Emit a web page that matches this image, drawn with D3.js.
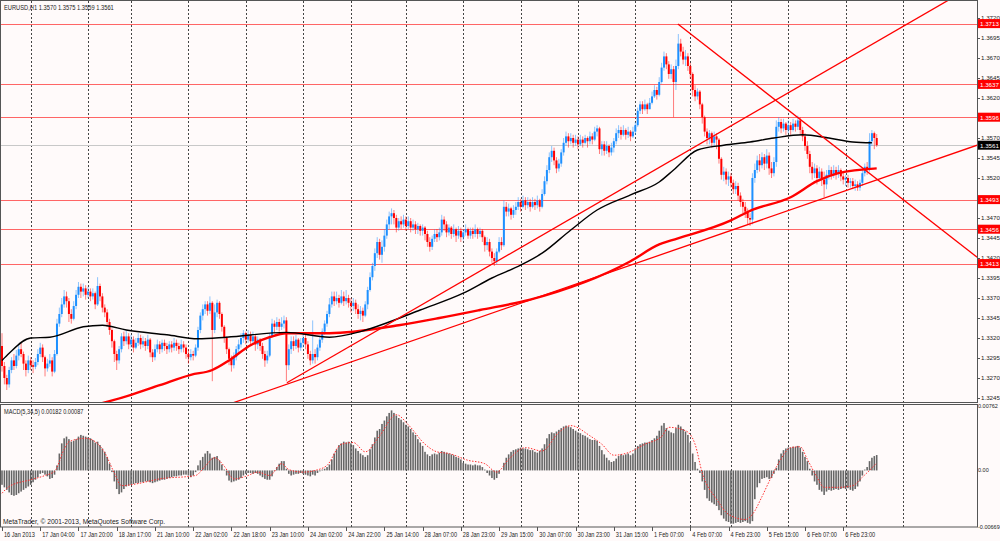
<!DOCTYPE html>
<html>
<head>
<meta charset="utf-8">
<script src="https://cdn.jsdelivr.net/npm/d3@7"></script>
<style>
  body { margin: 0; background: #fffafa; }
  text { font-family: "Liberation Sans", "DejaVu Sans", sans-serif; font-size: 7px; }
  .axis-r text { font-size: 6.2px; }
  .axis-m text { font-size: 5.5px; }
</style>
</head>
<body>
<div id="chart"></div>
<script>
// EURUSD H1 bars, prices in pips above 1.3000 (open of each bar = previous close)
const firstOpen = 310;
const closes = [
  285,270,262,280,292,285,298,306,300,288, 280,292,286,284,290,300,308,296,282,288,
  292,278,300,338,350,362,372,366,350,344, 360,374,384,378,382,374,378,372,376,362,
  385,372,358,352,340,330,316,300,292,306, 322,316,322,312,318,308,314,320,312,316,
  310,318,302,296,306,312,306,314,310,306, 312,308,314,310,306,312,308,300,296,300,
  298,308,330,348,356,362,354,364,330,352, 364,350,334,320,306,294,286,296,306,312,
  320,326,318,324,316,322,312,318,310,300, 292,298,322,338,334,340,334,338,342,286,
  306,316,310,318,308,314,320,312,300,292, 300,296,308,318,328,338,350,362,372,366,
  370,364,372,366,370,364,360,364,356,350, 354,348,362,380,396,410,426,440,424,434,
  448,462,472,476,470,458,466,462,468,460, 466,458,462,456,460,454,458,450,440,434,
  444,450,446,452,468,462,452,458,450,456, 448,454,446,452,456,448,454,450,456,450,
  454,446,436,440,428,420,416,428,440,436, 484,478,482,474,480,484,490,484,492,486,
  490,484,490,486,492,484,500,516,530,546, 554,542,532,538,552,564,572,566,570,564,
  568,562,568,564,570,566,572,568,578,582, 556,562,554,560,552,558,566,576,580,574,
  580,574,578,572,578,586,604,612,606,612, 606,614,622,630,624,640,658,672,662,650,
  656,640,660,688,678,668,672,660,650,630, 622,628,612,596,578,570,576,564,572,568,
  544,524,528,518,522,514,506,510,498,490, 484,478,470,468,520,530,542,536,546,538,
  548,532,526,540,584,590,582,588,580,586, 580,588,584,592,580,572,560,550,534,526,
  532,520,528,518,512,524,530,524,530,526, 530,522,518,520,514,516,510,512,508,514,
  526,534,530,566,576,570,561
];
const highs = [
  326,290,274,284,296,300,305,312,314,303, 292,298,296,292,295,306,314,312,298,294,
  300,296,305,344,358,370,380,378,370,356, 366,380,390,388,388,386,384,382,382,378,
  396,388,376,362,356,344,332,318,304,310, 326,328,330,326,324,322,320,326,324,322,
  320,324,320,306,312,318,316,318,318,314, 316,316,320,318,314,318,316,312,306,306,
  304,312,334,352,362,366,366,372,366,362, 368,366,352,336,322,308,298,302,310,318,
  326,330,328,330,328,328,324,322,320,314, 304,304,326,344,342,346,344,346,348,346,
  312,322,322,324,320,320,326,324,316,304, 342,306,312,322,332,342,354,370,378,378,
  378,374,380,378,380,374,370,370,368,362, 360,358,366,384,402,414,432,446,444,442,
  456,468,478,482,480,474,470,472,474,472, 472,470,468,466,464,462,462,460,454,446,
  448,456,456,458,474,472,466,462,460,462, 458,460,458,456,462,458,458,458,462,458,
  458,456,448,446,444,432,426,432,446,446, 492,490,488,484,486,490,496,494,498,496,
  496,494,496,494,498,494,506,522,536,552, 560,558,546,544,556,570,578,576,576,574,
  574,572,574,572,574,572,578,576,584,586, 584,566,566,566,562,564,570,582,586,584,
  586,582,584,580,584,590,608,616,616,618, 614,620,628,636,634,646,664,678,676,666,
  662,660,668,700,694,684,680,676,664,652, 636,632,630,614,598,582,580,578,578,576,
  570,546,534,532,528,526,518,516,514,502, 494,490,482,476,526,538,548,550,552,550,
  556,552,540,546,592,596,594,594,590,592, 590,594,592,598,596,584,576,566,554,540,
  538,536,534,532,528,530,536,534,536,534, 536,532,528,524,524,520,520,518,516,518,
  530,538,540,576,580,578,575
];
const lows = [
  278,262,255,258,276,280,282,292,296,280, 272,276,280,276,281,286,296,290,272,278,
  284,272,276,298,334,346,358,358,340,338, 342,356,370,370,372,368,370,366,368,356,
  360,366,352,346,334,324,308,290,280,288, 302,310,312,306,308,302,306,310,306,308,
  304,306,296,290,292,302,300,302,304,300, 302,302,304,304,300,302,302,294,288,292,
  292,296,304,326,342,350,348,350,266,326, 346,344,328,314,300,286,278,282,292,302,
  308,314,312,314,310,312,304,306,304,294, 284,288,296,320,326,330,328,330,332,266,
  280,300,304,306,302,304,308,306,294,286, 288,288,292,304,314,324,334,346,358,360,
  362,358,362,360,362,358,352,354,350,344, 342,340,346,356,378,392,404,420,418,414,
  428,444,456,462,462,452,454,456,458,454, 456,452,454,450,450,448,448,442,434,428,
  430,440,440,442,448,454,446,448,444,446, 440,444,440,442,448,444,444,444,446,444,
  446,440,428,430,422,414,410,412,426,430, 434,472,472,468,470,474,480,478,482,480,
  482,478,482,480,482,478,482,498,512,526, 540,536,526,528,534,548,560,558,562,558,
  560,556,560,558,562,558,562,562,566,572, 550,548,548,550,546,548,552,562,570,568,
  572,568,570,566,570,574,584,600,600,604, 600,606,612,620,618,622,638,654,656,644,
  644,596,630,656,672,662,660,654,644,622, 616,618,606,588,572,562,562,558,560,556,
  538,518,516,512,510,508,500,500,492,484, 476,470,462,460,462,514,526,528,532,530,
  532,524,520,522,534,578,576,578,574,576, 574,578,578,580,574,566,554,544,526,518,
  520,512,516,510,496,506,518,518,520,518, 520,516,512,510,508,508,506,504,504,504,
  510,522,524,528,560,556,559
];

// MACD(5,34,5) histogram per bar, in units of 0.00001
const macdHist = [
  -170,-200,-230,-260,-290,-300,-290,-270,-250,-230,-210,-190,-170,
  -140,-110,-80,-40,-30,-50,-70,-100,-90,-50,
  60,200,320,380,400,370,340,350,370,400,420,410,400,390,380,360,330,340,300,260,220,160,80,
  -20,-130,-220,-280,-260,-220,-190,-180,-170,-160,-150,-150,-140,-140,-130,-130,-140,-150,-140,-130,
  -120,-110,-110,-100,-90,-80,-70,-70,-60,-60,-50,-50,-60,-80,-60,-20,60,120,160,200,230,200,150,160,
  170,120,70,10,-60,-120,-140,-130,-120,-110,-90,
  -60,-40,-30,-30,-40,-30,-40,-60,-80,-100,-110,-110,-70,-10,
  40,80,110,110,20,-40,-60,-50,-40,-40,-30,-40,-50,-60,-70,-50,-60,-30,-10,10,20,40,70,
  130,200,250,300,320,340,330,340,320,300,260,230,200,180,160,180,250,310,390,470,490,550,590,640,680,710,
  680,650,620,600,570,540,520,490,450,420,370,330,290,220,190,170,190,200,190,210,230,220,210,200,190,180,160,150,130,
  90,80,70,70,60,70,60,60,40,10,-30,-60,-90,-110,-90,-40,0,90,150,190,220,240,250,260,270,260,260,250,240,240,220,210,230,
  260,310,380,430,450,440,460,480,500,520,530,520,510,490,470,450,440,420,410,390,370,360,360,350,290,240,190,150,120,100,110,
  140,170,190,180,190,200,180,200,260,290,310,320,330,330,340,360,380,410,470,530,560,500,470,450,440,500,540,520,490,460,420,330,200,100,20,
  -30,-130,-230,-330,-360,-380,-400,-420,-470,-530,-570,-600,-610,-630,-630,-620,-610,-620,-610,-600,-620,-630,-600,-340,-200,-150,-100,-90,-80,-100,-90,-40,
  30,130,200,240,260,270,270,280,280,290,270,220,160,110,20,-60,-130,-170,-230,-250,-290,-250,-230,-240,-230,-220,-230,-220,-210,-220,-210,-230,-240,-220,-190,-130,-60,10,40,110,150,170,182
];
// signal line [bar, value in 0.00001]
const macdSignal = [
  [0,-270],[3,-190],[12,-110],[18,-60],[22,-10],[26,250],[28,340],[35,380],[39,340],[43,210],[47,-30],[50,-180],
  [56,-160],[66,-100],[81,-60],[85,50],[89,150],[93,50],[97,-100],[102,-70],[107,-20],[112,-60],[117,80],[120,10],
  [126,-20],[131,0],[136,60],[142,310],[147,330],[152,220],[158,410],[165,660],[170,540],[177,310],[182,220],[187,200],
  [195,120],[202,80],[207,-20],[212,130],[219,270],[226,230],[233,450],[238,530],[246,410],[251,310],[256,180],[262,210],
  [269,310],[276,400],[279,510],[286,470],[290,310],[293,-30],[299,-340],[304,-520],[311,-580],[314,-520],[318,-310],
  [321,-130],[325,90],[330,270],[334,280],[337,130],[341,-80],[344,-200],[350,-200],[356,-180],[360,-80],[366,87]
];

// moving averages [bar, pips above 1.3000]
const maBlack = [
  [0,292],[3,301],[12,320],[20,321],[34,334],[42,336],[52,330],[69,324],[82,319],[94,321],[119,327],[137,321],
  [150,328],[162,340],[175,355],[193,376],[205,395],[217,411],[226,426],[238,455],[249,480],[263,499],[275,515],
  [281,530],[291,555],[302,561],[313,565],[323,570],[335,574],[346,570],[356,565],[364,564]
];
const maRed = [
  [40,237],[54,249],[66,261],[79,274],[88,280],[95,292],[104,311],[112,321],[119,326],[137,326],[166,336],[183,345],
  [200,355],[221,368],[263,416],[275,437],[280,442],[305,467],[313,479],[330,496],[341,516],[350,526],[366,532]
];

// trend lines [[bar, pips], [bar, pips]]
const trendLines = [
  [[282.8, 712.5], [408, 421]],
  [[119.2, 264], [408, 763]],
  [[96.7, 239], [408, 561]]
];

const levels = [1.3713, 1.3637, 1.3596, 1.3493, 1.3456, 1.3413];
const bidPrice = 1.3561;
const priceTicks = [1.3720,1.3695,1.3670,1.3645,1.3620,1.3595,1.3570,1.3545,1.3520,1.3495,1.3470,1.3445,
  1.3420,1.3395,1.3370,1.3345,1.3320,1.3295,1.3270,1.3245];
const macdTicks = [0.00762, 0, -0.00669];
const macdTickLabels = ["0.00762", "0.00", "-0.00669"];
const timeLabels = ["16 Jan 2013","17 Jan 04:00","17 Jan 20:00","18 Jan 17:00","21 Jan 10:00","22 Jan 02:00",
  "22 Jan 18:00","23 Jan 10:00","24 Jan 02:00","24 Jan 22:00","25 Jan 14:00","28 Jan 07:00","28 Jan 23:00",
  "29 Jan 15:00","30 Jan 07:00","30 Jan 23:00","31 Jan 15:00","1 Feb 07:00","4 Feb 07:00","4 Feb 23:00",
  "5 Feb 15:00","6 Feb 07:00","6 Feb 23:00"];
const labelStep = 16;
const gridBars = [12, 36, 54, 78, 102, 126, 146, 169, 193, 217, 241, 265, 288, 305, 329, 353, 377];

const width = 1000, height = 541;
const plotRight = 977;
const mainBottom = 402, macdTop = 405, macdBottom = 527;

const toPrice = (v) => 1.3 + v / 10000;

// squeeze text horizontally, the terminal font is narrower than the installed ones
function narrow(sel, factor) {
  sel.each(function () {
    const w = this.getComputedTextLength();
    d3.select(this).attr("textLength", w * factor).attr("lengthAdjust", "spacingAndGlyphs");
  });
}

const svg = d3
  .select("#chart")
  .append("svg")
  .attr("width", width)
  .attr("height", height)
  .style("background", "#fffafa");

const x = d3.scaleLinear().domain([0, 366]).range([2, 876.7]);
const y = d3.scaleLinear().domain([1.3245, 1.372]).range([398, 18]);
const ym = d3.scaleLinear().domain([-0.00669, 0.00762]).range([527, 406]);

// clip regions for the two panels
const defs = svg.append("defs");
defs.append("clipPath").attr("id", "clipMain")
  .append("rect").attr("x", 1).attr("y", 1).attr("width", plotRight - 1).attr("height", mainBottom - 1);
defs.append("clipPath").attr("id", "clipMacd")
  .append("rect").attr("x", 1).attr("y", macdTop).attr("width", plotRight - 1).attr("height", macdBottom - macdTop);

// dotted day grid across both panels
svg.append("g")
  .selectAll("line")
  .data(gridBars)
  .enter()
  .append("line")
  .attr("x1", (d) => Math.round(x(d)) + 0.5)
  .attr("x2", (d) => Math.round(x(d)) + 0.5)
  .attr("y1", 1)
  .attr("y2", macdBottom)
  .attr("stroke", "#444")
  .attr("stroke-width", 1)
  .attr("stroke-dasharray", "2,2");

const main = svg.append("g").attr("clip-path", "url(#clipMain)");

// horizontal levels
main.append("g")
  .selectAll("line")
  .data(levels)
  .enter()
  .append("line")
  .attr("x1", 0)
  .attr("x2", plotRight)
  .attr("y1", (d) => Math.round(y(d)) + 0.5)
  .attr("y2", (d) => Math.round(y(d)) + 0.5)
  .attr("stroke", "#ff3333")
  .attr("stroke-opacity", 0.75)
  .attr("stroke-width", 1.2);

main.append("line")
  .attr("x1", 0)
  .attr("x2", plotRight)
  .attr("y1", Math.round(y(bidPrice)) + 0.5)
  .attr("y2", Math.round(y(bidPrice)) + 0.5)
  .attr("stroke", "#c8c8c8")
  .attr("stroke-width", 1);

// candles
const bars = closes.map((c, i) => ({
  i: i,
  o: i === 0 ? firstOpen : closes[i - 1],
  h: highs[i],
  l: lows[i],
  c: c,
}));

const candle = main.append("g")
  .selectAll("g")
  .data(bars)
  .enter()
  .append("g")
  .attr("stroke", (d) => (d.c >= d.o ? "#1e90ff" : "#ff0000"))
  .attr("fill", (d) => (d.c >= d.o ? "#1e90ff" : "#ff0000"));

candle.append("line")
  .attr("x1", (d) => x(d.i))
  .attr("x2", (d) => x(d.i))
  .attr("y1", (d) => y(toPrice(Math.max(d.h, d.o, d.c))))
  .attr("y2", (d) => y(toPrice(Math.min(d.l, d.o, d.c))))
  .attr("stroke-width", 1)
  .attr("stroke-opacity", 0.5);

candle.append("rect")
  .attr("x", (d) => x(d.i) - 1)
  .attr("width", 2)
  .attr("y", (d) => y(toPrice(Math.max(d.o, d.c))))
  .attr("height", (d) => Math.max(0.8, Math.abs(y(toPrice(d.o)) - y(toPrice(d.c)))))
  .attr("stroke", "none");

// moving averages
const priceLine = d3.line()
  .x((d) => x(d[0]))
  .y((d) => y(toPrice(d[1])))
  .curve(d3.curveMonotoneX);

main.append("path")
  .datum(maRed)
  .attr("d", priceLine)
  .attr("fill", "none")
  .attr("stroke", "#ff0000")
  .attr("stroke-width", 2.4);

main.append("path")
  .datum(maBlack)
  .attr("d", priceLine)
  .attr("fill", "none")
  .attr("stroke", "#000")
  .attr("stroke-width", 1.4);

// trend lines
main.append("g")
  .selectAll("line")
  .data(trendLines)
  .enter()
  .append("line")
  .attr("x1", (d) => x(d[0][0]))
  .attr("y1", (d) => y(toPrice(d[0][1])))
  .attr("x2", (d) => x(d[1][0]))
  .attr("y2", (d) => y(toPrice(d[1][1])))
  .attr("stroke", "#ff0000")
  .attr("stroke-width", 1.3);

// macd panel
const macd = svg.append("g").attr("clip-path", "url(#clipMacd)");

macd.append("g")
  .selectAll("rect")
  .data(macdHist)
  .enter()
  .append("rect")
  .attr("x", (d, i) => x(i) - 0.8)
  .attr("width", 1.6)
  .attr("y", (d) => Math.min(ym(d / 100000), ym(0)))
  .attr("height", (d) => Math.abs(ym(d / 100000) - ym(0)))
  .attr("fill", "#666");

macd.append("path")
  .datum(macdSignal)
  .attr("d", d3.line()
    .x((d) => x(d[0]))
    .y((d) => ym(d[1] / 100000))
    .curve(d3.curveMonotoneX))
  .attr("fill", "none")
  .attr("stroke", "#ff3030")
  .attr("stroke-width", 1)
  .attr("stroke-dasharray", "1.5,1.5");

// frames
svg.append("rect")
  .attr("x", 0.5).attr("y", 0.5)
  .attr("width", plotRight).attr("height", mainBottom)
  .attr("fill", "none").attr("stroke", "#555");
svg.append("rect")
  .attr("x", 0.5).attr("y", macdTop - 0.5)
  .attr("width", plotRight).attr("height", macdBottom - macdTop + 0.5)
  .attr("fill", "none").attr("stroke", "#555");

// price axis
const pAxis = svg.append("g").attr("class", "axis-r");
pAxis.selectAll("line")
  .data(priceTicks)
  .enter()
  .append("line")
  .attr("x1", plotRight).attr("x2", plotRight + 3)
  .attr("y1", (d) => Math.round(y(d)) + 0.5)
  .attr("y2", (d) => Math.round(y(d)) + 0.5)
  .attr("stroke", "#555");
pAxis.selectAll("text")
  .data(priceTicks)
  .enter()
  .append("text")
  .attr("x", plotRight + 4)
  .attr("y", (d) => y(d) + 2.2)
  .attr("fill", "#222")
  .text((d) => d.toFixed(4));

// level price tags
const tags = svg.append("g")
  .attr("class", "axis-r")
  .selectAll("g")
  .data(levels.map((d) => ({ v: d, c: "#ff0000" })).concat([{ v: bidPrice, c: "#000" }]))
  .enter()
  .append("g");
tags.append("rect")
  .attr("x", plotRight + 1)
  .attr("y", (d) => y(d.v) - 4.5)
  .attr("width", 22)
  .attr("height", 9)
  .attr("fill", (d) => d.c);
tags.append("text")
  .attr("x", plotRight + 3)
  .attr("y", (d) => y(d.v) + 2.3)
  .attr("fill", "#fff")
  .text((d) => d.v.toFixed(4));

// macd axis
svg.append("g")
  .attr("class", "axis-m")
  .selectAll("text")
  .data(macdTicks)
  .enter()
  .append("text")
  .attr("x", plotRight + 1)
  .attr("y", (d) => ym(d) + 2)
  .attr("fill", "#222")
  .text((d, i) => macdTickLabels[i]);

// time axis
const tAxis = svg.append("g");
tAxis.selectAll("line")
  .data(timeLabels)
  .enter()
  .append("line")
  .attr("x1", (d, i) => Math.round(x(i * labelStep)) + 0.5)
  .attr("x2", (d, i) => Math.round(x(i * labelStep)) + 0.5)
  .attr("y1", macdBottom)
  .attr("y2", macdBottom + 4)
  .attr("stroke", "#555");
tAxis.selectAll("text")
  .data(timeLabels)
  .enter()
  .append("text")
  .attr("x", (d, i) => x(i * labelStep) + 2)
  .attr("y", 537)
  .attr("fill", "#222")
  .text((d) => d)
  .call(narrow, 0.8);

// captions
svg.append("text").attr("x", 4).attr("y", 10).attr("fill", "#222")
  .text("EURUSD,H1  1.3570 1.3575 1.3559 1.3561")
  .call(narrow, 0.82);
svg.append("text").attr("x", 4).attr("y", 414).attr("fill", "#222")
  .text("MACD(5,34,5) 0.00182 0.00087")
  .call(narrow, 0.8);
svg.append("text").attr("x", 3).attr("y", 524).attr("fill", "#222")
  .text("MetaTrader, © 2001-2013, MetaQuotes Software Corp.")
  .call(narrow, 0.95);
</script>
</body>
</html>
